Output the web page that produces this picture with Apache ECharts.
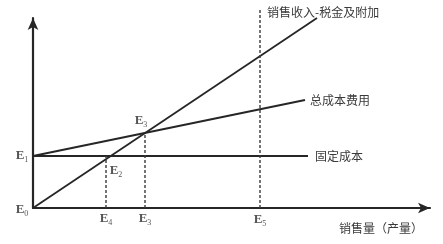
<!DOCTYPE html>
<html><head><meta charset="utf-8">
<script src="https://cdn.jsdelivr.net/npm/echarts@6/dist/echarts.min.js"></script>
<style>html,body{margin:0;padding:0;background:#fff}#c{width:443px;height:244px}</style>
</head><body><div id="c"></div>
<script>
// Data (chart units: x = sales volume, y = amount)
const xMax = 397, yMax = 190;
const revenueLine = [[0, 0], [284, 190]];
const totalCostLine = [[0, 52], [272, 108]];
const fixedCostLine = [[0, 52], [275, 52]];
const dropE4 = [[73, 0], [73, 52]];
const dropE3 = [[112, 0], [112, 75]];
const dropE5 = [[227, 0], [227, 200]];
const lineNames = ['销售收入-税金及附加', '总成本费用', '固定成本'];
const xAxisName = '销售量（产量）';
const pointSubs = ['0', '1', '2', '3', '4', '3', '5'];
const pointXY = [[-11, -2], [-11, 52], [83, 37], [108, 87], [73, -11], [112, -11], [227, -12]];

const ink = '#262626';
const txt = '#3a3a3a';
const cjk = '"Noto Sans CJK SC", sans-serif';
const chart = echarts.init(document.getElementById('c'));
function solid(name, data, labelOpts) {
  return {
    type: 'line', name, data, symbol: 'none', clip: false, silent: true,
    lineStyle: { color: ink, width: 1.8 },
    endLabel: Object.assign({ show: true, formatter: name, color: txt, fontFamily: cjk, fontSize: 12 }, labelOpts)
  };
}
function dashed(data) {
  return { type: 'line', data, symbol: 'none', clip: false, silent: true,
    lineStyle: { color: '#3a3a3a', width: 1.4, type: [3, 2] } };
}
chart.setOption({
  animation: false,
  grid: { left: 33, right: 13, top: 18, bottom: 36 },
  xAxis: {
    type: 'value', min: 0, max: xMax, splitLine: { show: false },
    axisTick: { show: false }, axisLabel: { show: false },
    axisLine: { lineStyle: { color: ink, width: 2.2 }, symbol: ['none', 'arrow'], symbolSize: [8, 12] },
    name: xAxisName, nameLocation: 'end', nameGap: -7,
    nameTextStyle: { color: txt, fontFamily: cjk, fontSize: 12, align: 'right', verticalAlign: 'top', padding: [14, 0, 0, 0] }
  },
  yAxis: {
    type: 'value', min: 0, max: yMax, splitLine: { show: false },
    axisTick: { show: false }, axisLabel: { show: false },
    axisLine: { show: true, lineStyle: { color: ink, width: 2.2 }, symbol: ['none', 'arrow'], symbolSize: [8, 12] }
  },
  series: [
    solid(lineNames[0], revenueLine, { offset: [-58, -6] }),
    solid(lineNames[1], totalCostLine, { distance: 5 }),
    solid(lineNames[2], fixedCostLine, { distance: 7 }),
    dashed(dropE4), dashed(dropE3), dashed(dropE5),
    {
      type: 'scatter', clip: false, silent: true, symbolSize: 0,
      data: pointXY.map((p, i) => ({ value: p, sub: pointSubs[i] })),
      label: {
        show: true, position: 'inside',
        formatter: p => '{e|E}{s|' + p.data.sub + '}',
        rich: {
          e: { fontFamily: '"Liberation Serif", serif', fontWeight: 'bold', fontSize: 13, color: '#2a2a2a' },
          s: { fontFamily: '"Liberation Serif", serif', fontSize: 8, color: '#2a2a2a', padding: [7, 0, 0, 0] }
        }
      }
    }
  ]
});
</script></body></html>
